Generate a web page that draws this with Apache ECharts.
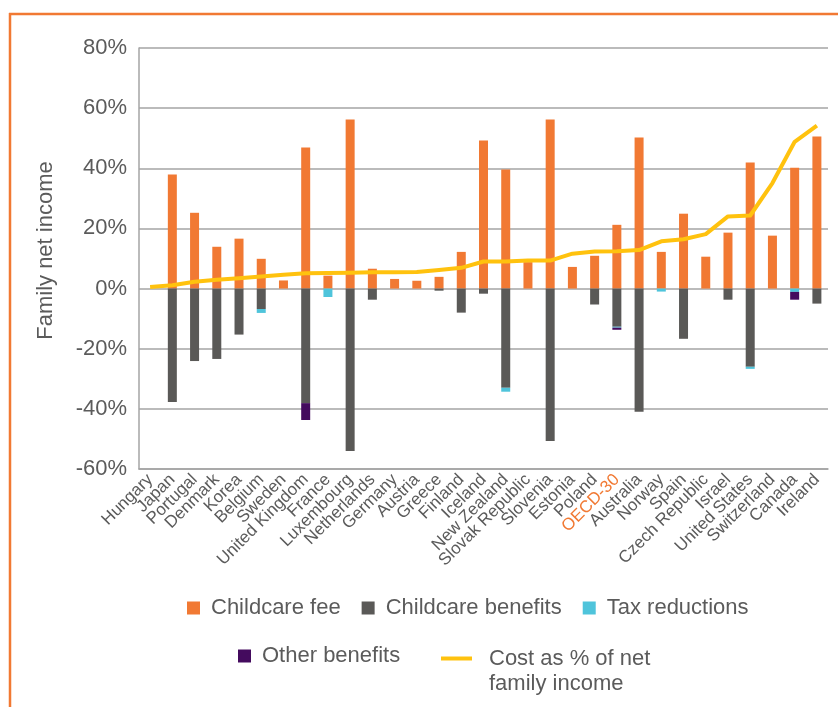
<!DOCTYPE html>
<html>
<head>
<meta charset="utf-8">
<style>
  html, body { margin: 0; padding: 0; background: #ffffff; }
  #chart { width: 838px; height: 707px; }
</style>
<script src="https://cdn.jsdelivr.net/npm/echarts@6/dist/echarts.min.js"></script>
</head>
<body>
<div id="chart"></div>
<script>
// Countries ordered by net childcare cost as a share of family income
const categories = [
  'Hungary', 'Japan', 'Portugal', 'Denmark', 'Korea', 'Belgium', 'Sweden',
  'United Kingdom', 'France', 'Luxembourg', 'Netherlands', 'Germany', 'Austria',
  'Greece', 'Finland', 'Iceland', 'New Zealand', 'Slovak Republic', 'Slovenia',
  'Estonia', 'Poland', 'OECD-30', 'Australia', 'Norway', 'Spain',
  'Czech Republic', 'Israel', 'United States', 'Switzerland', 'Canada', 'Ireland'
];

// Components, % of family net income
const childcareFee = [
  null, 37.9, 25.2, 13.9, 16.6, 9.9, 2.7, 46.9, 4.3, 56.2, 6.6, 3.2, 2.6,
  3.9, 12.2, 49.2, 39.6, 8.8, 56.2, 7.2, 10.9, 21.2, 50.2, 12.2, 24.9,
  10.6, 18.6, 41.9, 17.6, 40.2, 50.6
];
const childcareBenefits = [
  null, -37.7, -24.1, -23.4, -15.3, -6.8, null, -38.1, null, -54.0, -3.7, null, null,
  -0.7, -8.0, -1.7, -33.0, null, -50.7, null, -5.3, -12.7, -41.0, null, -16.7,
  null, -3.7, -26.0, null, null, -5.0
];
const taxReductions = [
  null, null, null, null, null, -1.3, null, null, -2.8, null, null, null, null,
  null, null, null, -1.3, null, null, null, null, -0.3, null, -1.0, null,
  null, null, -0.7, null, -1.1, null
];
const otherBenefits = [
  null, null, null, null, null, null, null, -5.6, null, null, null, null, null,
  null, null, null, null, null, null, null, null, -0.7, null, null, null,
  null, null, null, null, -2.6, null
];
const netCost = [
  0.5, 1.1, 2.3, 2.9, 3.4, 4.0, 4.6, 5.1, 5.2, 5.3, 5.4, 5.4, 5.5,
  6.2, 6.9, 9.0, 9.0, 9.3, 9.3, 11.6, 12.3, 12.4, 12.8, 15.7, 16.4,
  18.1, 24.0, 24.3, 35.1, 48.8, 54.2
];

const yTicks = { min: -60, max: 80, interval: 20 };

const ORANGE = '#F17933';
const DARK = '#5A5957';
const CYAN = '#4FC4DB';
const PURPLE = '#440B5E';
const GOLD = '#FFC20E';
const TEXT = '#5b5b5b';
const GRID = '#a4a4a4';
const FONT = '"Liberation Sans", Arial, Helvetica, sans-serif';

const costName = 'Cost as % of net\nfamily income';

const chart = echarts.init(document.getElementById('chart'), null, { renderer: 'canvas' });

chart.setOption({
  backgroundColor: '#ffffff',
  animation: false,
  textStyle: { fontFamily: FONT },
  grid: { left: 139, right: 10, top: 48, bottom: 238, containLabel: false, outerBoundsMode: 'none' },
  graphic: [
    { type: 'line', shape: { x1: 9, y1: 14, x2: 838, y2: 14 }, style: { stroke: ORANGE, lineWidth: 2.5 } },
    { type: 'line', shape: { x1: 10, y1: 13, x2: 10, y2: 707 }, style: { stroke: ORANGE, lineWidth: 2.5 } }
  ],
  legend: [
    {
      data: ['Childcare fee', 'Childcare benefits', 'Tax reductions'],
      left: 187, top: 597, padding: 0, itemGap: 21,
      itemWidth: 13, itemHeight: 13, icon: 'rect', selectedMode: false,
      textStyle: { fontSize: 22, color: TEXT, fontFamily: FONT, lineHeight: 22, padding: [0, 0, 0, 6] }
    },
    {
      data: ['Other benefits'],
      left: 238, top: 645, padding: 0,
      itemWidth: 13, itemHeight: 13, icon: 'rect', selectedMode: false,
      textStyle: { fontSize: 22, color: TEXT, fontFamily: FONT, lineHeight: 22, padding: [0, 0, 0, 6] }
    },
    {
      // leading blank line keeps the swatch level with the first text line
      data: [costName],
      left: 441, top: 621, padding: 0,
      itemWidth: 31, itemHeight: 4, icon: 'rect', selectedMode: false,
      formatter: name => '\n' + name,
      textStyle: { fontSize: 22, color: TEXT, fontFamily: FONT, lineHeight: 25, padding: [0, 0, 0, 12] }
    }
  ],
  xAxis: {
    type: 'category',
    data: categories.map(c => c === 'OECD-30'
      ? { value: c, textStyle: { color: ORANGE } }
      : c),
    axisLine: { show: true, onZero: false, lineStyle: { color: GRID, width: 1.5 } },
    axisTick: { show: false },
    axisLabel: {
      interval: 0, rotate: 45, margin: 8,
      fontSize: 17, color: TEXT, fontFamily: FONT
    },
    splitLine: { show: false }
  },
  yAxis: {
    type: 'value',
    min: yTicks.min, max: yTicks.max, interval: yTicks.interval,
    name: 'Family net income',
    nameLocation: 'middle', nameGap: 82,
    nameTextStyle: { fontSize: 22, color: TEXT, fontFamily: FONT, padding: [0, 0, 0, 16] },
    axisLine: { show: true, lineStyle: { color: GRID, width: 1.5 } },
    axisTick: { show: false },
    axisLabel: {
      fontSize: 22, color: TEXT, fontFamily: FONT, margin: 12,
      formatter: v => v + '%'
    },
    splitLine: { show: true, lineStyle: { color: GRID, width: 1.5 } }
  },
  series: [
    {
      name: 'Childcare fee', type: 'bar', stack: 'net', barWidth: 9,
      itemStyle: { color: ORANGE }, data: childcareFee
    },
    {
      name: 'Childcare benefits', type: 'bar', stack: 'net', barWidth: 9,
      itemStyle: { color: DARK }, data: childcareBenefits
    },
    {
      name: 'Tax reductions', type: 'bar', stack: 'net', barWidth: 9,
      itemStyle: { color: CYAN }, data: taxReductions
    },
    {
      name: 'Other benefits', type: 'bar', stack: 'net', barWidth: 9,
      itemStyle: { color: PURPLE }, data: otherBenefits
    },
    {
      name: costName, type: 'line', data: netCost,
      color: GOLD, showSymbol: false, symbol: 'none',
      lineStyle: { color: GOLD, width: 4, join: 'round' },
      itemStyle: { color: GOLD },
      z: 5
    }
  ]
});
</script>
</body>
</html>
